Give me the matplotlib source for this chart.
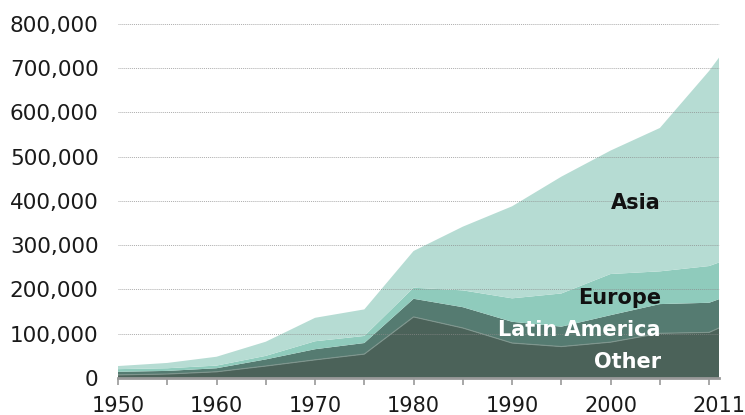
import numpy as np
import matplotlib
matplotlib.use("Agg")
import matplotlib.pyplot as plt
from matplotlib.ticker import FuncFormatter

years = [1950, 1955, 1960, 1965, 1970, 1975, 1980, 1985, 1990, 1995, 2000, 2005, 2010, 2011]

# values per region (stacked bottom to top)
other = [7000, 9000, 14000, 27000, 41000, 54000, 138000, 113000, 79000, 71000, 81000, 101000, 103000, 113000]
latin_america = [7000, 7000, 8000, 15000, 24000, 25000, 41000, 47000, 48000, 45000, 61000, 66000, 67000, 65000]
europe = [6000, 6000, 6000, 8000, 18000, 16000, 25000, 38000, 53000, 75000, 93000, 74000, 83000, 83000]
asia = [7000, 12000, 20000, 32000, 53000, 60000, 83000, 144000, 208000, 264000, 279000, 324000, 441000, 463000]

labels = ["Other", "Latin America", "Europe", "Asia"]
colors = ["#4b6259", "#557b71", "#8fcbbc", "#b6dcd3"]

x_ticks = list(range(1950, 2011, 5))
x_ticklabels = ["1950", "", "1960", "", "1970", "", "1980", "", "1990", "", "2000", "", ""]

fig = plt.figure(figsize=(7.45, 4.15), dpi=100)
ax = fig.add_axes([0.1584, 0.0892, 0.8067, 0.853])

ax.stackplot(years, other, latin_america, europe, asia, colors=colors, linewidth=0)

# thin light edge on top of the "Other" layer
ax.plot(years, other, color="#7f968e", linewidth=0.8)

ax.set_xlim(1950, 2011)
ax.set_ylim(0, 800000)

ax.set_yticks(range(0, 800001, 100000))
ax.yaxis.set_major_formatter(FuncFormatter(lambda v, p: f"{int(v):,}"))
ax.tick_params(axis="y", length=0, pad=14, labelsize=15.5, labelcolor="#1a1a1a")

ax.set_xticks(x_ticks)
ax.set_xticklabels(x_ticklabels)
ax.set_xticks([2011], minor=True)
ax.set_xticklabels(["2011"], minor=True)
ax.tick_params(axis="x", which="major", length=5, width=1.2, color="#999999",
               pad=8, labelsize=15, labelcolor="#1a1a1a")
ax.tick_params(axis="x", which="minor", length=0, pad=13, labelsize=15, labelcolor="#1a1a1a")

for s in ["top", "right", "left"]:
    ax.spines[s].set_visible(False)
ax.spines["bottom"].set_color("#999999")
ax.spines["bottom"].set_linewidth(2)

# dotted grid on top of the areas
for v in range(100000, 800001, 100000):
    ax.axhline(v, color="#8a8a8a", linestyle=(0, (1, 1)), linewidth=0.7, alpha=0.7, zorder=5, clip_on=False)

ax.text(2005.1, 382000, "Asia", ha="right", va="baseline", fontsize=15, fontweight="bold", color="#111111", zorder=6)
ax.text(2005.1, 167000, "Europe", ha="right", va="baseline", fontsize=15, fontweight="bold", color="#111111", zorder=6)
ax.text(2005.1, 95000, "Latin America", ha="right", va="baseline", fontsize=15, fontweight="bold", color="white", zorder=6)
ax.text(2005.1, 23000, "Other", ha="right", va="baseline", fontsize=15, fontweight="bold", color="white", zorder=6)

fig.savefig("out.png", dpi=100)
